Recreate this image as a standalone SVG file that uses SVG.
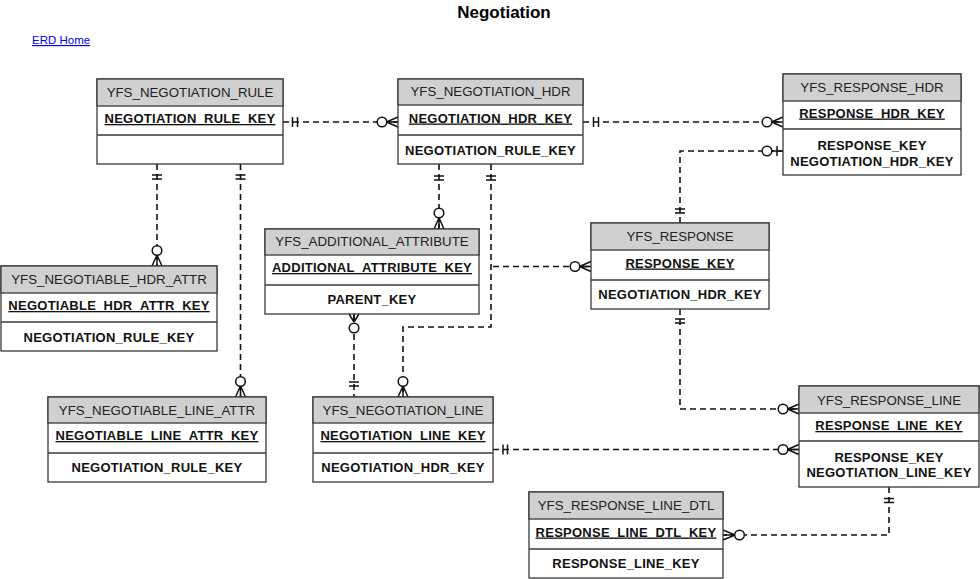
<svg xmlns="http://www.w3.org/2000/svg" width="980" height="579" viewBox="0 0 980 579">
<style>
.box{fill:#fff;stroke:#3a3a3a;stroke-width:1.3}
.hd{fill:#d0d0d0;stroke:#3a3a3a;stroke-width:1.3}
.sep{stroke:#3a3a3a;stroke-width:1.3}
.ht{font-family:"Liberation Sans",Arial,sans-serif;font-size:13.3px;fill:#222;text-anchor:middle}
.pk{font-family:"Liberation Sans",Arial,sans-serif;font-size:13px;font-weight:bold;fill:#111;text-anchor:middle;text-decoration:underline;letter-spacing:0.25px}
.at{font-family:"Liberation Sans",Arial,sans-serif;font-size:13px;font-weight:bold;fill:#111;text-anchor:middle;letter-spacing:0.25px}
.dl{fill:none;stroke:#111;stroke-width:1.6;stroke-dasharray:6 4}
.sy{fill:none;stroke:#111;stroke-width:1.5}
.ci{fill:#fff;stroke:#111;stroke-width:1.5}
</style>
<rect width="980" height="579" fill="#fff"/>
<text x="504" y="18" font-family="Liberation Sans,Arial,sans-serif" font-size="17" font-weight="bold" text-anchor="middle" fill="#000">Negotiation</text>
<text x="32" y="44" font-family="Liberation Sans,Arial,sans-serif" font-size="11.5" fill="#0000ee" text-decoration="underline">ERD Home</text>

<g id="connectors">
<path class="dl" d="M283,122 H398"/>
<path class="sy" d="M292.5,117 V127 M297.5,117 V127 M386.5,122 L398,117 M386.5,122 L398,122 M386.5,122 L398,127"/>
<circle class="ci" cx="382" cy="122" r="4.8"/>

<path class="dl" d="M583,122 H783"/>
<path class="sy" d="M593.5,117 V127 M598.5,117 V127 M771.5,122 L783,117 M771.5,122 L783,122 M771.5,122 L783,127"/>
<circle class="ci" cx="767" cy="122" r="4.8"/>

<path class="dl" d="M680,223 V151 H783"/>
<path class="sy" d="M675,209 H685 M675,213 H685 M777,146 V156 M771.5,151 H783"/>
<circle class="ci" cx="767" cy="151" r="4.8"/>

<path class="dl" d="M157,164 V266"/>
<path class="sy" d="M152,175 H162 M152,179 H162 M157,255 L152,266 M157,255 L157,266 M157,255 L162,266"/>
<circle class="ci" cx="157" cy="250.5" r="4.8"/>

<path class="dl" d="M240.5,164 V397"/>
<path class="sy" d="M235.5,175 H245.5 M235.5,179 H245.5 M240.5,386 L235.5,397 M240.5,386 L240.5,397 M240.5,386 L245.5,397"/>
<circle class="ci" cx="240.5" cy="381.5" r="4.8"/>

<path class="dl" d="M439,164 V229"/>
<path class="sy" d="M434,176 H444 M434,180 H444 M439,218 L434,229 M439,218 L439,229 M439,218 L444,229"/>
<circle class="ci" cx="439" cy="213" r="4.8"/>

<path class="dl" d="M491,164 V327 H403 V397"/>
<path class="sy" d="M486,176 H496 M486,180 H496 M403,386 L398,397 M403,386 L403,397 M403,386 L408,397"/>
<circle class="ci" cx="403" cy="381.5" r="4.8"/>

<path class="dl" d="M493,266.5 H591"/>
<path class="sy" d="M579.5,266.5 L591,261.5 M579.5,266.5 L591,266.5 M579.5,266.5 L591,271.5"/>
<circle class="ci" cx="575" cy="266.5" r="4.8"/>

<path class="dl" d="M354,314 V397"/>
<path class="sy" d="M354,322 L349,314 M354,322 L354,314 M354,322 L359,314 M349,382 H359 M349,386 H359"/>
<circle class="ci" cx="354" cy="328" r="4.8"/>

<path class="dl" d="M680,309 V409 H799"/>
<path class="sy" d="M675,319 H685 M675,323 H685 M787.5,409 L799,404 M787.5,409 L799,409 M787.5,409 L799,414"/>
<circle class="ci" cx="783" cy="409" r="4.8"/>

<path class="dl" d="M493,449.5 H799"/>
<path class="sy" d="M503,444.5 V454.5 M507.5,444.5 V454.5 M787.5,449.5 L799,444.5 M787.5,449.5 L799,449.5 M787.5,449.5 L799,454.5"/>
<circle class="ci" cx="783" cy="449.5" r="4.8"/>

<path class="dl" d="M889,487 V535 H723"/>
<path class="sy" d="M884,498.5 H894 M884,502.5 H894 M735,535 L723,530 M735,535 L723,535 M735,535 L723,540"/>
<circle class="ci" cx="739.5" cy="535" r="4.8"/>
</g>

<g id="YFS_NEGOTIATION_RULE">
<rect class="box" x="97" y="79" width="186" height="85"/>
<rect class="hd" x="97" y="79" width="186" height="27"/>
<line class="sep" x1="97" y1="135" x2="283" y2="135"/>
<text class="ht" x="190" y="96.5">YFS_NEGOTIATION_RULE</text>
<text class="pk" x="190" y="123">NEGOTIATION_RULE_KEY</text>
</g>

<g id="YFS_NEGOTIATION_HDR">
<rect class="box" x="398" y="79" width="185" height="85"/>
<rect class="hd" x="398" y="79" width="185" height="26"/>
<line class="sep" x1="398" y1="135" x2="583" y2="135"/>
<text class="ht" x="490.5" y="96">YFS_NEGOTIATION_HDR</text>
<text class="pk" x="490.5" y="122.5">NEGOTIATION_HDR_KEY</text>
<text class="at" x="490.5" y="154.5">NEGOTIATION_RULE_KEY</text>
</g>

<g id="YFS_RESPONSE_HDR">
<rect class="box" x="783" y="74" width="178" height="101"/>
<rect class="hd" x="783" y="74" width="178" height="27"/>
<line class="sep" x1="783" y1="129" x2="961" y2="129"/>
<text class="ht" x="872" y="91.5">YFS_RESPONSE_HDR</text>
<text class="pk" x="872" y="117.5">RESPONSE_HDR_KEY</text>
<text class="at" x="872" y="150">RESPONSE_KEY</text>
<text class="at" x="872" y="165.5">NEGOTIATION_HDR_KEY</text>
</g>

<g id="YFS_RESPONSE">
<rect class="box" x="591" y="223" width="178" height="86"/>
<rect class="hd" x="591" y="223" width="178" height="27"/>
<line class="sep" x1="591" y1="280" x2="769" y2="280"/>
<text class="ht" x="680" y="240.5">YFS_RESPONSE</text>
<text class="pk" x="680" y="267.5">RESPONSE_KEY</text>
<text class="at" x="680" y="299">NEGOTIATION_HDR_KEY</text>
</g>

<g id="YFS_NEGOTIABLE_HDR_ATTR">
<rect class="box" x="1" y="266" width="216" height="85"/>
<rect class="hd" x="1" y="266" width="216" height="27"/>
<line class="sep" x1="1" y1="322" x2="217" y2="322"/>
<text class="ht" x="109" y="283.5">YFS_NEGOTIABLE_HDR_ATTR</text>
<text class="pk" x="109" y="310">NEGOTIABLE_HDR_ATTR_KEY</text>
<text class="at" x="109" y="341.5">NEGOTIATION_RULE_KEY</text>
</g>

<g id="YFS_ADDITIONAL_ATTRIBUTE">
<rect class="box" x="265" y="229" width="214" height="85"/>
<rect class="hd" x="265" y="229" width="214" height="26"/>
<line class="sep" x1="265" y1="285" x2="479" y2="285"/>
<text class="ht" x="372" y="246">YFS_ADDITIONAL_ATTRIBUTE</text>
<text class="pk" x="372" y="272">ADDITIONAL_ATTRIBUTE_KEY</text>
<text class="at" x="372" y="303.5">PARENT_KEY</text>
</g>

<g id="YFS_NEGOTIABLE_LINE_ATTR">
<rect class="box" x="48" y="397" width="218" height="85"/>
<rect class="hd" x="48" y="397" width="218" height="26"/>
<line class="sep" x1="48" y1="453" x2="266" y2="453"/>
<text class="ht" x="157" y="414.5">YFS_NEGOTIABLE_LINE_ATTR</text>
<text class="pk" x="157" y="440">NEGOTIABLE_LINE_ATTR_KEY</text>
<text class="at" x="157" y="472">NEGOTIATION_RULE_KEY</text>
</g>

<g id="YFS_NEGOTIATION_LINE">
<rect class="box" x="313" y="397" width="180" height="85"/>
<rect class="hd" x="313" y="397" width="180" height="26"/>
<line class="sep" x1="313" y1="453" x2="493" y2="453"/>
<text class="ht" x="403" y="414.5">YFS_NEGOTIATION_LINE</text>
<text class="pk" x="403" y="440">NEGOTIATION_LINE_KEY</text>
<text class="at" x="403" y="472">NEGOTIATION_HDR_KEY</text>
</g>

<g id="YFS_RESPONSE_LINE">
<rect class="box" x="799" y="386" width="180" height="101"/>
<rect class="hd" x="799" y="386" width="180" height="27"/>
<line class="sep" x1="799" y1="441" x2="979" y2="441"/>
<text class="ht" x="889" y="405">YFS_RESPONSE_LINE</text>
<text class="pk" x="889" y="430">RESPONSE_LINE_KEY</text>
<text class="at" x="889" y="461.5">RESPONSE_KEY</text>
<text class="at" x="889" y="477">NEGOTIATION_LINE_KEY</text>
</g>

<g id="YFS_RESPONSE_LINE_DTL">
<rect class="box" x="529" y="492" width="194" height="86"/>
<rect class="hd" x="529" y="492" width="194" height="27"/>
<line class="sep" x1="529" y1="549" x2="723" y2="549"/>
<text class="ht" x="626" y="509.5">YFS_RESPONSE_LINE_DTL</text>
<text class="pk" x="626" y="536.5">RESPONSE_LINE_DTL_KEY</text>
<text class="at" x="626" y="568">RESPONSE_LINE_KEY</text>
</g>
</svg>
